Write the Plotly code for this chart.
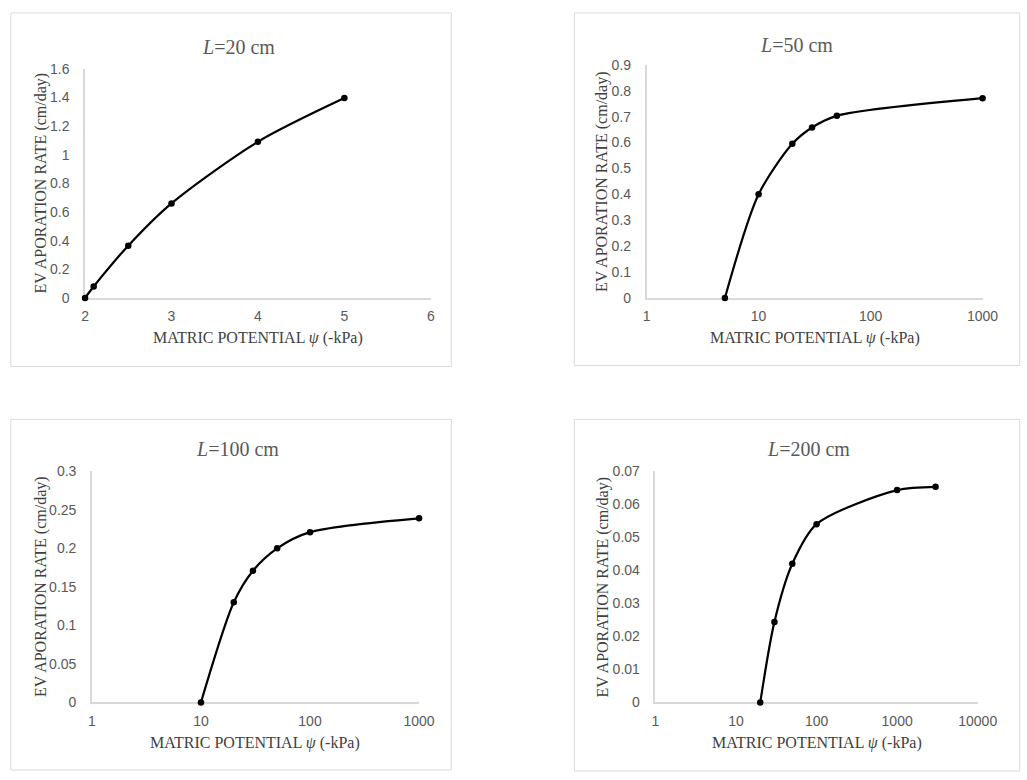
import plotly.graph_objects as go

# Evaporation rate vs. matric potential for four column lengths
psi_20 = [2, 2.1, 2.5, 3, 4, 5]
rate_20 = [0, 0.08, 0.365, 0.66, 1.09, 1.395]

psi_50 = [5, 10, 20, 30, 50, 1000]
rate_50 = [0, 0.4, 0.595, 0.658, 0.703, 0.771]

psi_100 = [10, 20, 30, 50, 100, 1000]
rate_100 = [0, 0.13, 0.171, 0.2, 0.221, 0.239]

psi_200 = [20, 30, 50, 100, 1000, 3000]
rate_200 = [0, 0.0244, 0.042, 0.054, 0.0643, 0.0653]

titles = ["<i>L</i>=20 cm", "<i>L</i>=50 cm", "<i>L</i>=100 cm", "<i>L</i>=200 cm"]

x_ticks_20 = [2, 3, 4, 5, 6]
x_ticks_50 = [1, 10, 100, 1000]
x_ticks_100 = [1, 10, 100, 1000]
x_ticks_200 = [1, 10, 100, 1000, 10000]

y_ticks_20 = [0, 0.2, 0.4, 0.6, 0.8, 1, 1.2, 1.4, 1.6]
y_ticks_50 = [0, 0.1, 0.2, 0.3, 0.4, 0.5, 0.6, 0.7, 0.8, 0.9]
y_ticks_100 = [0, 0.05, 0.1, 0.15, 0.2, 0.25, 0.3]
y_ticks_200 = [0, 0.01, 0.02, 0.03, 0.04, 0.05, 0.06, 0.07]

y_labels_20 = ["0", "0.2", "0.4", "0.6", "0.8", "1", "1.2", "1.4", "1.6"]
y_labels_50 = ["0", "0.1", "0.2", "0.3", "0.4", "0.5", "0.6", "0.7", "0.8", "0.9"]
y_labels_100 = ["0", "0.05", "0.1", "0.15", "0.2", "0.25", "0.3"]
y_labels_200 = ["0", "0.01", "0.02", "0.03", "0.04", "0.05", "0.06", "0.07"]

x_title = "MATRIC POTENTIAL <i>ψ</i> (-kPa)"
y_title = "EV APORATION RATE (cm/day)"

W, H = 1027, 780
SERIF = "Liberation Serif, Times New Roman, serif"
SANS = "Liberation Sans, Arial, sans-serif"
TICK_GREY = "#595959"
AXIS_GREY = "#d9d9d9"


def px_x(p):
    return p / W


def px_y(p):
    return 1 - p / H


# panel layout in pixels: plot box (left, right, top, bottom) and frame box
panels = [
    dict(x=psi_20, y=rate_20, log=False, xr=[2, 6], yr=[0, 1.6],
         xt=x_ticks_20, yt=y_ticks_20, yl=y_labels_20,
         box=(83, 437, 62, 296), frame=(7, 458, 5, 366),
         title_xy=(240, 40), ytitle_x=38),
    dict(x=psi_50, y=rate_50, log=True, xr=[0, 3], yr=[0, 0.9],
         xt=x_ticks_50, yt=y_ticks_50, yl=y_labels_50,
         box=(658, 1002, 58, 296), frame=(584, 1040, 5, 365),
         title_xy=(811, 38), ytitle_x=613),
    dict(x=psi_100, y=rate_100, log=True, xr=[0, 3], yr=[0, 0.3],
         xt=x_ticks_100, yt=y_ticks_100, yl=y_labels_100,
         box=(90, 425, 473, 709), frame=(7, 458, 420, 778),
         title_xy=(239, 450), ytitle_x=38),
    dict(x=psi_200, y=rate_200, log=True, xr=[0, 4], yr=[0, 0.07],
         xt=x_ticks_200, yt=y_ticks_200, yl=y_labels_200,
         box=(667, 997, 473, 709), frame=(584, 1040, 420, 779),
         title_xy=(824, 450), ytitle_x=613),
]

fig = go.Figure()
layout = dict(
    width=W, height=H,
    margin=dict(l=0, r=0, t=0, b=0),
    paper_bgcolor="white", plot_bgcolor="white",
    showlegend=False,
    shapes=[], annotations=[],
)

for i, p in enumerate(panels, start=1):
    xa = "x" if i == 1 else f"x{i}"
    ya = "y" if i == 1 else f"y{i}"
    xkey = "xaxis" if i == 1 else f"xaxis{i}"
    ykey = "yaxis" if i == 1 else f"yaxis{i}"
    left, right, top, bottom = p["box"]

    fig.add_trace(go.Scatter(
        x=p["x"], y=p["y"], xaxis=xa, yaxis=ya,
        mode="lines+markers",
        line=dict(color="black", width=2.2, shape="spline", smoothing=0.8),
        marker=dict(color="black", size=6.5),
        cliponaxis=False,
    ))

    layout[xkey] = dict(
        domain=[px_x(left), px_x(right)],
        anchor=ya,
        type="log" if p["log"] else "linear",
        range=p["xr"],
        tickvals=p["xt"],
        ticktext=[str(v) for v in p["xt"]],
        showgrid=False, zeroline=False,
        showline=True, linecolor=AXIS_GREY, linewidth=1.5,
        layer="below traces",
        ticks="", ticklabelstandoff=5,
        tickfont=dict(family=SANS, size=14, color=TICK_GREY),
    )
    layout[ykey] = dict(
        domain=[px_y(bottom), px_y(top)],
        anchor=xa,
        range=p["yr"],
        tickvals=p["yt"],
        ticktext=p["yl"],
        showgrid=False, zeroline=False,
        showline=True, linecolor=AXIS_GREY, linewidth=1.5,
        layer="below traces",
        ticks="", ticklabelstandoff=11,
        tickfont=dict(family=SANS, size=14, color=TICK_GREY),
    )

    fl, fr, ft, fb = p["frame"]
    layout["shapes"].append(dict(
        type="rect", xref="paper", yref="paper",
        x0=px_x(fl), x1=px_x(fr), y0=px_y(fb), y1=px_y(ft),
        line=dict(color=AXIS_GREY, width=1), fillcolor="rgba(0,0,0,0)",
        layer="below",
    ))

    tx, ty = p["title_xy"]
    layout["annotations"].append(dict(
        text=titles[i - 1], xref="paper", yref="paper",
        x=px_x(tx), y=px_y(ty), xanchor="center", yanchor="middle",
        showarrow=False, font=dict(family=SERIF, size=20, color=TICK_GREY),
    ))
    layout["annotations"].append(dict(
        text=x_title, xref="paper", yref="paper",
        x=px_x((left + right) / 2), y=px_y(bottom + 41),
        xanchor="center", yanchor="middle",
        showarrow=False, font=dict(family=SERIF, size=16, color="#404040"),
    ))
    layout["annotations"].append(dict(
        text=y_title, xref="paper", yref="paper",
        x=px_x(p["ytitle_x"]), y=px_y((top + bottom) / 2),
        xanchor="center", yanchor="middle", textangle=-90,
        showarrow=False, font=dict(family=SERIF, size=16, color="#404040"),
    ))

fig.update_layout(**layout)
# drop the default page margin so the figure sits flush at the top-left
fig.write_html("out.html", post_script="document.body.style.margin='0px';")
